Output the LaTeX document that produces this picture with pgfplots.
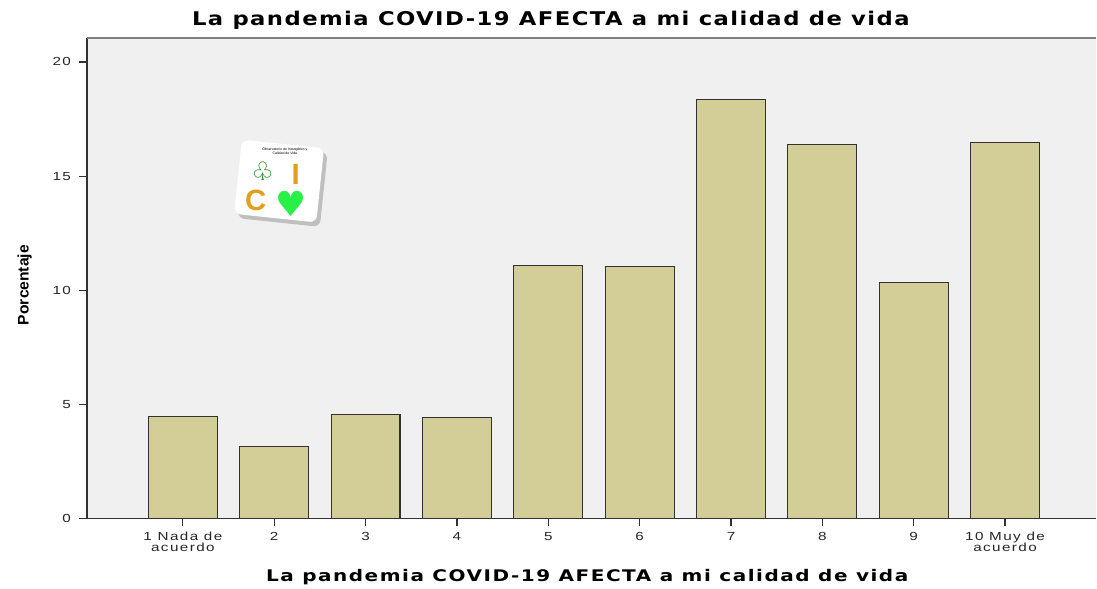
\documentclass[border=0pt]{standalone}
\usepackage{fontspec}
\setmainfont{Liberation Sans}
\newfontfamily\dejavu{DejaVu Sans}
\newfontfamily\ticksfont[FakeStretch=1.3, LetterSpace=12]{Liberation Sans}
\newfontfamily\titlefont[FakeStretch=1.2, LetterSpace=7.5]{DejaVu Sans}
\newfontfamily\xlabfont[FakeStretch=1.25, LetterSpace=9.5]{DejaVu Sans}
\usepackage{pgfplots}
\pgfplotsset{compat=1.18}
\usetikzlibrary{calc}
\definecolor{barfill}{RGB}{211,206,151}
\definecolor{plotbg}{RGB}{240,240,240}
\definecolor{axdark}{RGB}{50,50,50}
\definecolor{logoorange}{RGB}{224,160,30}
\definecolor{logogreen}{RGB}{40,240,70}
\begin{document}
\begin{tikzpicture}
\begin{axis}[
  at={(0,0)}, anchor=south west,
  scale only axis,
  width=757.5pt, height=360.75pt,
  xmin=-0.05, xmax=11,
  ymin=0, ymax=21.05,
  axis lines*=left,
  axis line style={axdark, line width=0.9pt},
  axis background/.style={fill=plotbg},
  tick align=outside,
  major tick length=5.5pt,
  tick style={axdark, line width=0.9pt},
  xtick={1,...,10},
  xticklabels={{1 Nada de\\acuerdo},2,3,4,5,6,7,8,9,{10 Muy de\\acuerdo}},
  xticklabel style={align=center, font=\ticksfont\fontsize{8.8}{8.3}\selectfont, text=black!85, yshift=-1pt},
  ytick={0,5,10,15,20},
  yticklabel style={font=\ticksfont\fontsize{8.8}{10}\selectfont, text=black!85, xshift=-3pt},
  /pgf/number format/assume math mode=true,
  clip=false,
  ybar,
  bar width=0.754,
]
\addplot[fill=barfill, draw=axdark, line width=0.8pt] coordinates {
  (1,4.46) (2,3.15) (3,4.55) (4,4.42) (5,11.07)
  (6,11.03) (7,18.34) (8,16.37) (9,10.33) (10,16.46)
};
\draw[gray, line width=0.9pt] (rel axis cs:0,1) -- (rel axis cs:1,1);
% longer y ticks as in the reference
\draw[axdark, line width=0.9pt] (axis cs:-0.05,0) -- ++(-9.5pt,0);
\draw[axdark, line width=0.9pt] (axis cs:-0.05,5) -- ++(-9.5pt,0);
\draw[axdark, line width=0.9pt] (axis cs:-0.05,10) -- ++(-9.5pt,0);
\draw[axdark, line width=0.9pt] (axis cs:-0.05,15) -- ++(-9.5pt,0);
\draw[axdark, line width=0.9pt] (axis cs:-0.05,20) -- ++(-9.5pt,0);
% title and labels
\node[font=\titlefont\bfseries\fontsize{14.2}{16}\selectfont] at ($(rel axis cs:0.455,1)+(0,13.5pt)$) {La pandemia COVID-19 AFECTA a mi calidad de vida};
\node[font=\xlabfont\bfseries\fontsize{12}{14}\selectfont] at ($(rel axis cs:0.491,0)+(0,-43.5pt)$) {La pandemia COVID-19 AFECTA a mi calidad de vida};
\node[rotate=90, font=\bfseries\fontsize{11.5}{13}\selectfont] at ($(rel axis cs:0,0.486)+(-50.25pt,0)$) {\scalebox{1.02}[1]{Porcentaje}};
% logo
\begin{scope}[shift={(axis cs:2.06,14.49)}, rotate=-6]
  \fill[black!25, rounded corners=5pt] (-29pt,-26pt) rectangle (33pt,30pt);
  \fill[white, rounded corners=5pt] (-32pt,-23pt) rectangle (30pt,33pt);
  \node[font=\fontsize{2.6}{3}\selectfont, align=center, inner sep=0pt] at (1pt,28pt) {Observatorio de Intangibles y\\Calidad de Vida};
  \node[font=\dejavu\fontsize{19}{19}\selectfont, text=green!50!black, inner sep=0pt] at (-14pt,11pt) {♧};
  \node[font=\bfseries\fontsize{22}{22}\selectfont, text=logoorange, inner sep=0pt] at (11pt,11pt) {I};
  \node[font=\bfseries\fontsize{22}{22}\selectfont, text=logoorange, inner sep=0pt] at (-17pt,-11pt) {C};
  \node[font=\dejavu\fontsize{26}{26}\selectfont, text=logogreen, inner sep=0pt] at (10pt,-11pt) {♥};
\end{scope}
\end{axis}
\path[use as bounding box] (-65.25pt,-51.75pt) rectangle (757.5pt,389.25pt);
\end{tikzpicture}
\end{document}
